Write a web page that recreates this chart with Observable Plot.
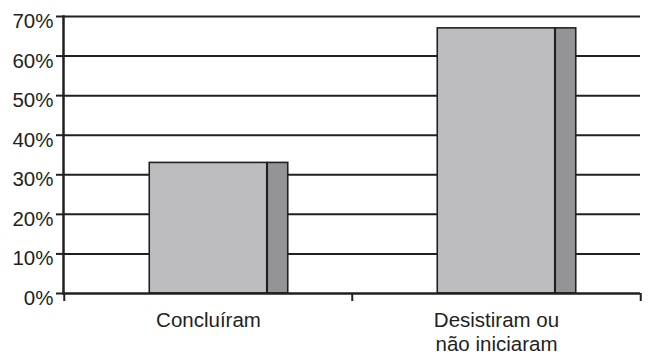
<!DOCTYPE html>
<html>
<head>
<meta charset="utf-8">
<script src="https://cdn.jsdelivr.net/npm/d3@7"></script>
<script src="https://cdn.jsdelivr.net/npm/@observablehq/plot@0.6"></script>
<style>
  html, body { margin: 0; padding: 0; background: #fff; }
</style>
</head>
<body>
<div id="chart"></div>
<script>
// Share of participants by outcome
const categories = ["Concluíram", "Desistiram ou\nnão iniciaram"];
const shares = [0.33, 0.67];
const yTicks = [0, 0.1, 0.2, 0.3, 0.4, 0.5, 0.6, 0.7];

const data = categories.map((c, i) => ({category: c, share: shares[i]}));

const W = 656, H = 354;
const mLeft = 63, mRight = 16, mTop = 16, mBottom = 61;
const band = (W - mLeft - mRight) / categories.length;
const frontW = 118, sideW = 21;
const frontInset = (band - frontW) / 2;

const ink = "#231f20";

const chart = Plot.plot({
  width: W,
  height: H,
  marginLeft: mLeft,
  marginRight: mRight,
  marginTop: mTop,
  marginBottom: mBottom,
  style: {fontFamily: "'Liberation Sans', Arial, sans-serif", fontSize: "20.5px", color: ink, background: "#fff"},
  x: {type: "band", domain: categories, padding: 0, axis: null},
  y: {domain: [0, 0.7], axis: null},
  marks: [
    // horizontal gridlines
    Plot.ruleY(yTicks.slice(1), {stroke: ink, strokeWidth: 2}),
    // front face of each bar
    Plot.barY(data, {
      x: "category", y: "share",
      fill: "#bdbdbf", stroke: ink, strokeWidth: 1.6,
      insetLeft: frontInset, insetRight: frontInset
    }),
    // darker side face
    Plot.barY(data, {
      x: "category", y: "share",
      fill: "#949497", stroke: ink, strokeWidth: 1.6,
      insetLeft: frontInset + frontW, insetRight: band - frontInset - frontW - sideW
    }),
    // baseline and vertical axis
    Plot.ruleY([0], {stroke: ink, strokeWidth: 2.5}),
    Plot.frame({anchor: "left", stroke: ink, strokeWidth: 2.5}),
    // y ticks and labels
    Plot.axisY({ticks: yTicks, tickSize: 7, tickFormat: () => "", label: null, stroke: ink, strokeWidth: 2}),
    Plot.axisY({ticks: yTicks, tickSize: 0, tickPadding: 10, dy: 5, tickFormat: d3.format(".0%"), label: null, fill: ink}),
    // category boundary ticks on the x axis
    Plot.axisX({ticks: categories, tickSize: 8, dx: -band / 2, tickFormat: () => "", label: null, stroke: ink, strokeWidth: 2}),
    Plot.axisX({ticks: categories.slice(-1), tickSize: 8, dx: band / 2, tickFormat: () => "", label: null, stroke: ink, strokeWidth: 2}),
    // category labels
    Plot.axisX({ticks: categories, tickSize: 0, tickPadding: 16, lineHeight: 1.18, label: null, fill: ink})
  ]
});

document.getElementById("chart").appendChild(chart);
</script>
</body>
</html>
